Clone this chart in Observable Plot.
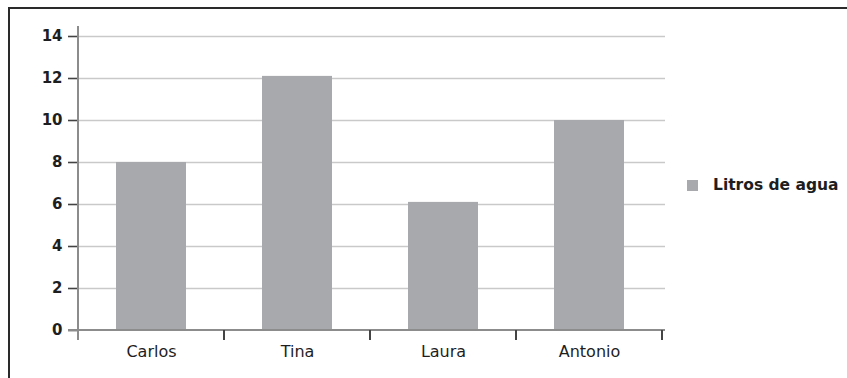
<!DOCTYPE html>
<html>
<head>
<meta charset="utf-8">
<script src="https://cdn.jsdelivr.net/npm/d3@7"></script>
<script src="https://cdn.jsdelivr.net/npm/@observablehq/plot@0.6"></script>
<style>
  html, body { margin: 0; padding: 0; background: #fff; overflow: hidden; }
  #wrap { position: relative; width: 847px; height: 378px; overflow: hidden; font-family: "DejaVu Sans", sans-serif; }
  #frame { position: absolute; left: 8px; top: 7px; width: 900px; height: 500px; border: 2px solid #2a2a2a; box-sizing: border-box; }
  #chart { position: absolute; left: 0; top: 0; }
  #legend { position: absolute; left: 687px; top: 176px; display: flex; align-items: center; gap: 15px; font-size: 15.5px; font-weight: 700; color: #1e1e1e; }
  #legend .sw { width: 11px; height: 11px; }
</style>
</head>
<body>
<div id="wrap">
  <div id="frame"></div>
  <div id="chart"></div>
  <div id="legend"></div>
</div>
<script>
const names = ["Carlos", "Tina", "Laura", "Antonio"];
const litros = [8, 12.1, 6.1, 10];
const yTicks = [0, 2, 4, 6, 8, 10, 12, 14];
const seriesLabel = "Litros de agua";
const barColor = "#a8a9ac";

const data = names.map((n, i) => ({name: n, value: litros[i]}));

const plot = Plot.plot({
  width: 847,
  height: 378,
  marginLeft: 78,
  marginRight: 185,
  marginTop: 36,
  marginBottom: 48,
  style: {fontFamily: "'DejaVu Sans', sans-serif", background: "transparent"},
  x: {domain: names, padding: 0, label: null},
  y: {domain: [0, 14], label: null},
  marks: [
    Plot.ruleY(yTicks.filter(d => d > 0), {stroke: "#c9c9c9", strokeWidth: 1.5, insetRight: -3}),
    Plot.barY(data, {x: "name", y: "value", fill: barColor, insetLeft: 38, insetRight: 38}),
    Plot.axisY(yTicks, {tickSize: 10, tickPadding: 6, fontSize: 15, fontWeight: "bold", stroke: "#444", strokeWidth: 1.6, fill: "#1e1e1e", label: null}),
    Plot.axisX({tickSize: 0, tickPadding: 15, fontSize: 16, fontWeight: "normal", fill: "#1e1e1e", label: null})
  ]
});

document.getElementById("chart").appendChild(plot);

// axis lines and category boundary ticks, positioned with Plot's own scales
const xs = plot.scale("x"), ys = plot.scale("y");
const svg = d3.select(plot);
const g = svg.append("g");
const x0 = xs.apply(names[0]);
const xEnd = xs.apply(names[names.length - 1]) + xs.bandwidth;
const yTop = ys.apply(14), yZero = ys.apply(0);
// y axis line
g.append("line").attr("x1", x0).attr("x2", x0).attr("y1", yTop - 10).attr("y2", yZero + 10)
  .attr("stroke", "#8c8c8c").attr("stroke-width", 2);
// x axis line
g.append("line").attr("x1", x0 - 10).attr("x2", xEnd + 3).attr("y1", yZero).attr("y2", yZero)
  .attr("stroke", "#8c8c8c").attr("stroke-width", 2);
// category boundary ticks
names.slice(1).map(n => xs.apply(n)).concat([xEnd]).forEach(x => {
  g.append("line").attr("x1", x).attr("x2", x).attr("y1", yZero).attr("y2", yZero + 10)
    .attr("stroke", "#444").attr("stroke-width", 2);
});

const lg = document.getElementById("legend");
lg.innerHTML = `<div class="sw" style="background:${barColor}"></div><span>${seriesLabel}</span>`;
</script>
</body>
</html>
